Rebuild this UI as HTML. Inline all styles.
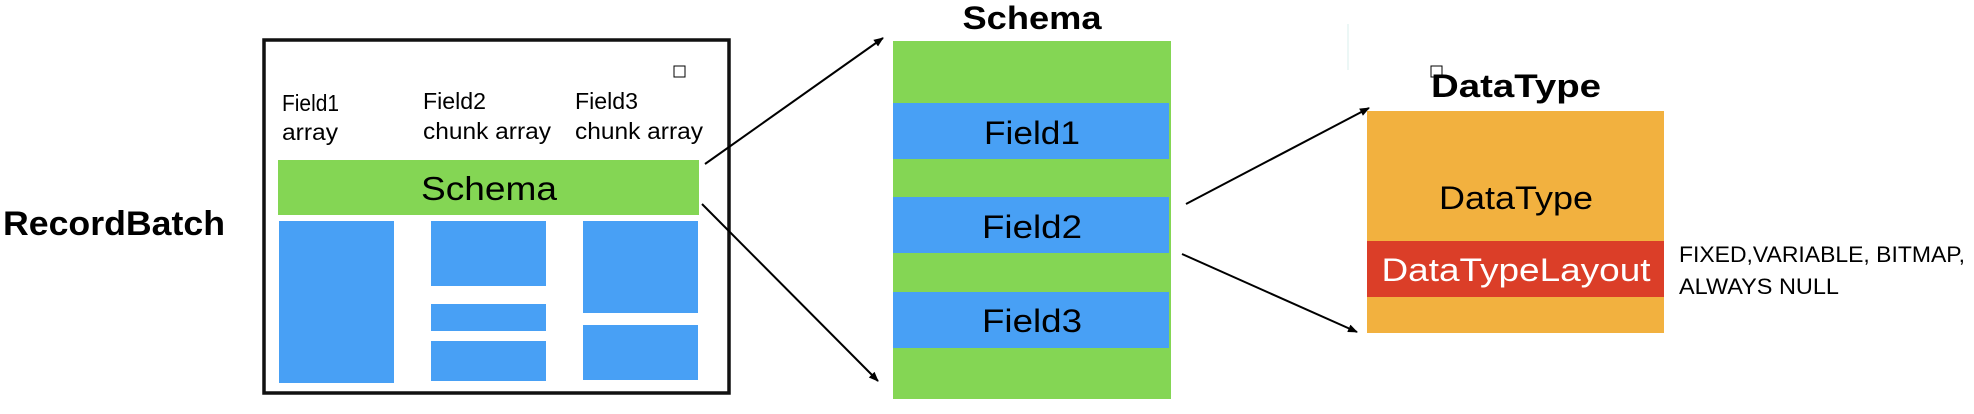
<!DOCTYPE html>
<html><head><meta charset="utf-8"><style>html,body{margin:0;padding:0;background:#fff;}svg{display:block}</style></head>
<body>
<svg width="1974" height="414" viewBox="0 0 1974 414" xmlns="http://www.w3.org/2000/svg" font-family="'Liberation Sans', sans-serif">
<defs>
<marker id="ah" markerWidth="10" markerHeight="10" refX="9" refY="5" orient="auto" markerUnits="userSpaceOnUse">
<path d="M0,1 L10,5 L0,9 Z" fill="#000"/></marker>
</defs>
<text x="3" y="235" font-size="34" font-weight="bold" textLength="222" lengthAdjust="spacingAndGlyphs">RecordBatch</text>
<rect x="264" y="40" width="465" height="353" fill="none" stroke="#111" stroke-width="3.5"/>
<rect x="674" y="66" width="11" height="11" fill="none" stroke="#000" stroke-width="1"/>
<g font-size="23">
<text x="282" y="111" textLength="57" lengthAdjust="spacingAndGlyphs">Field1</text>
<text x="282" y="140" textLength="56" lengthAdjust="spacingAndGlyphs">array</text>
<text x="423" y="109" textLength="63" lengthAdjust="spacingAndGlyphs">Field2</text>
<text x="423" y="139" textLength="128" lengthAdjust="spacingAndGlyphs">chunk array</text>
<text x="575" y="109" textLength="63" lengthAdjust="spacingAndGlyphs">Field3</text>
<text x="575" y="139" textLength="128" lengthAdjust="spacingAndGlyphs">chunk array</text>
</g>
<rect x="278" y="160" width="421" height="55" fill="#84d654"/>
<text x="489" y="200" font-size="33" text-anchor="middle" textLength="136" lengthAdjust="spacingAndGlyphs">Schema</text>
<g fill="#48a0f5">
<rect x="279" y="221" width="115" height="162"/>
<rect x="431" y="221" width="115" height="65"/>
<rect x="431" y="304" width="115" height="27"/>
<rect x="431" y="341" width="115" height="40"/>
<rect x="583" y="221" width="115" height="92"/>
<rect x="583" y="325" width="115" height="55"/>
</g>
<g stroke="#000" stroke-width="2" fill="none" marker-end="url(#ah)">
<line x1="705" y1="164" x2="883" y2="38"/>
<line x1="702" y1="204" x2="878" y2="381"/>
<line x1="1186" y1="204" x2="1369" y2="108"/>
<line x1="1182" y1="254" x2="1357" y2="332"/>
</g>
<text x="1032" y="29" font-size="32" font-weight="bold" text-anchor="middle" textLength="139" lengthAdjust="spacingAndGlyphs">Schema</text>
<rect x="893" y="41" width="278" height="358" fill="#84d654"/>
<g fill="#48a0f5">
<rect x="893" y="103" width="276" height="56"/>
<rect x="893" y="197" width="276" height="56"/>
<rect x="893" y="292" width="276" height="56"/>
</g>
<g font-size="32" text-anchor="middle">
<text x="1032" y="144" textLength="96" lengthAdjust="spacingAndGlyphs">Field1</text>
<text x="1032" y="238" textLength="100" lengthAdjust="spacingAndGlyphs">Field2</text>
<text x="1032" y="332" textLength="100" lengthAdjust="spacingAndGlyphs">Field3</text>
</g>
<line x1="1348" y1="24" x2="1348" y2="70" stroke="#e6f4f2" stroke-width="1.5"/>
<rect x="1431" y="66" width="11" height="11" fill="none" stroke="#000" stroke-width="1"/>
<text x="1431" y="97" font-size="32" font-weight="bold" textLength="170" lengthAdjust="spacingAndGlyphs">DataType</text>
<rect x="1367" y="111" width="297" height="222" fill="#f2b13f"/>
<rect x="1367" y="241" width="297" height="56" fill="#db3e28"/>
<text x="1516" y="209" font-size="32" text-anchor="middle" textLength="154" lengthAdjust="spacingAndGlyphs">DataType</text>
<text x="1516" y="281" font-size="32" fill="#fff" text-anchor="middle" textLength="269" lengthAdjust="spacingAndGlyphs">DataTypeLayout</text>
<g font-size="22">
<text x="1679" y="262" textLength="286" lengthAdjust="spacingAndGlyphs">FIXED,VARIABLE, BITMAP,</text>
<text x="1679" y="294" textLength="160" lengthAdjust="spacingAndGlyphs">ALWAYS NULL</text>
</g>
</svg>
</body></html>
